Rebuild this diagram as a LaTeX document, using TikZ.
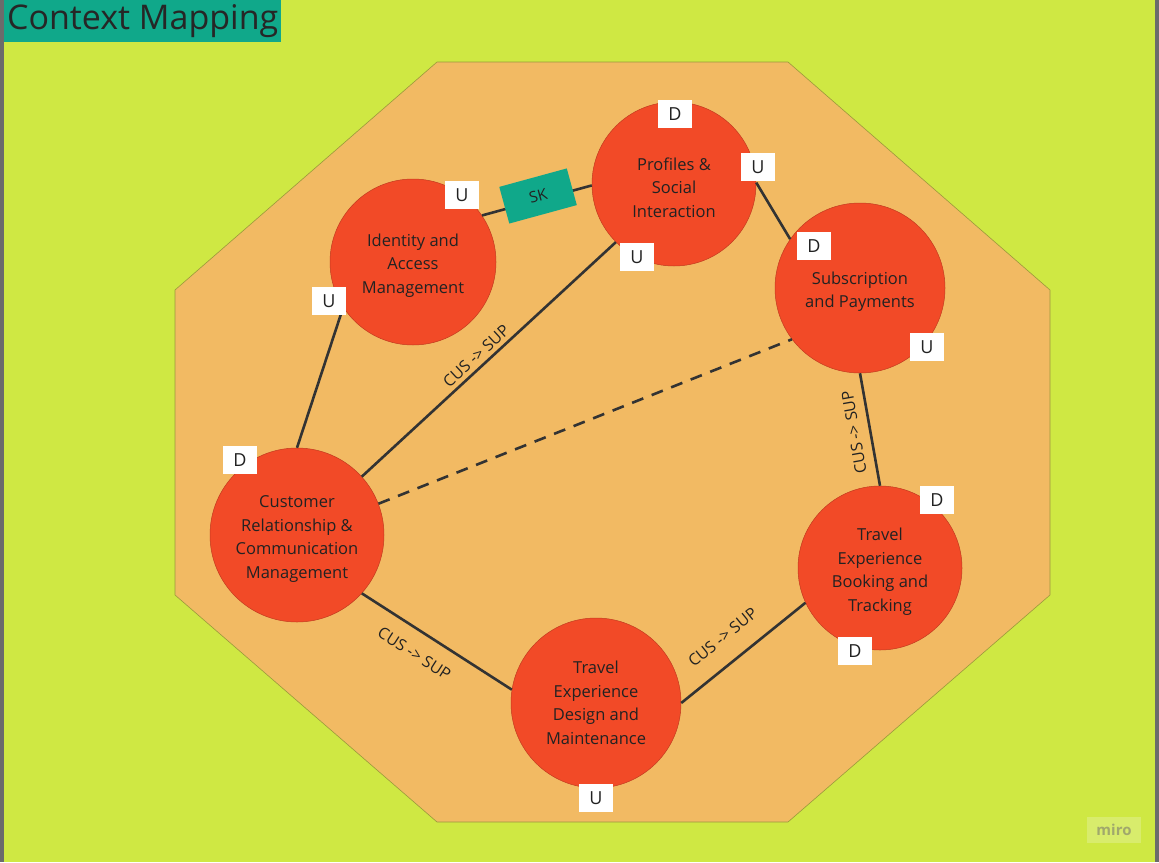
\documentclass[tikz,border=0pt]{standalone}
\usepackage{fontspec}
\setmainfont{Open Sans}
\definecolor{limebg}{HTML}{CFE843}
\definecolor{octo}{HTML}{F2BA63}
\definecolor{octoline}{HTML}{9A9A3A}
\definecolor{ctxred}{HTML}{F24A27}
\definecolor{tealbox}{HTML}{10A88A}
\definecolor{ink}{HTML}{333333}
\definecolor{txt}{HTML}{222222}
\definecolor{edgegray}{HTML}{6B6B6B}
\definecolor{mirobox}{HTML}{D8EC6C}
\definecolor{mirotext}{HTML}{A0A86C}
\newcommand\ctxstrut{\rule{0pt}{19.5pt}}
\begin{document}
\begin{tikzpicture}[x=1pt,y=-1pt,
  ctxnode/.style={circle, fill=ctxred, draw=ctxred!80!black, line width=0.5pt, inner sep=0pt,
    align=center, text=txt, font=\fontsize{16.5}{23.5}\selectfont},
  udtag/.style={fill=white, minimum width=34pt, minimum height=28pt, inner sep=0pt,
    text=txt, font=\fontsize{18}{20}\selectfont},
  rel/.style={draw=ink, line width=2.6pt},
  lbl/.style={font=\fontsize{16}{18}\selectfont, text=txt, sloped, inner sep=2pt},
  skbox/.style={fill=tealbox, minimum width=70pt, minimum height=38pt, inner sep=0pt,
    text=txt, font=\fontsize{15.5}{16}\selectfont}]
\useasboundingbox (0,0) rectangle (1159,862);
% background
\fill[limebg] (0,0) rectangle (1159,862);
\fill[edgegray] (0,0) rectangle (4,862);
\fill[edgegray] (1155,0) rectangle (1159,862);
% title
\node[fill=tealbox, anchor=north west, minimum width=277pt, minimum height=42pt, inner sep=0pt,
  text=black!85, font=\fontsize{34}{36}\selectfont] (title) at (4,0) {Context Mapping};
% octagon
\draw[fill=octo, draw=octoline, line width=0.6pt]
  (437,62) -- (788,62) -- (1050,290) -- (1050,595) -- (788,822) -- (437,822) -- (175,595) -- (175,290) -- cycle;
% contexts
\node[ctxnode, minimum size=166pt] (id) at (413,262) {\ctxstrut Identity and\\Access\\Management};
\node[ctxnode, minimum size=164pt] (pr) at (674,184) {\ctxstrut Profiles \&\\Social\\Interaction};
\node[ctxnode, minimum size=170pt] (su) at (860,288) {\ctxstrut Subscription\\and Payments};
\node[ctxnode, minimum size=174pt] (cu) at (297,535) {\ctxstrut Customer\\Relationship \&\\Communication\\Management};
\node[ctxnode, minimum size=164pt] (bo) at (880,568) {\ctxstrut Travel\\Experience\\Booking and\\Tracking};
\node[ctxnode, minimum size=170pt] (de) at (596,703) {Travel\\Experience\\Design and\\Maintenance};
% relations
\draw[rel] (id.213) -- (cu.90);
\draw[rel] (id.34) -- node[skbox, sloped, pos=0.52, yshift=4pt] (sk) {SK} (pr.181);
\draw[rel] (pr.1) -- (su.145);
\draw[rel] (cu.42) -- node[lbl, above=2pt, pos=0.48] (l1) {CUS -> SUP} (pr.225);
\draw[rel, dash pattern=on 12pt off 9pt] (cu.21) -- (su.217);
\draw[rel] (bo.90) -- node[lbl, allow upside down, above=7pt, midway] (l2) {CUS -> SUP} (su.270);
\draw[rel] (cu.318) -- node[lbl, below=13pt, pos=0.43] (l3) {CUS -> SUP} (de.171);
\draw[rel] (de.0) -- node[lbl, above=16pt, pos=0.46] (l4) {CUS -> SUP} (bo.205);
% U / D tags
\node[udtag] (t1) at (675,114) {D};
\node[udtag] (t2) at (758,167) {U};
\node[udtag] (t3) at (637,257) {U};
\node[udtag] (t4) at (462,195) {U};
\node[udtag] (t5) at (329,301) {U};
\node[udtag] (t6) at (814,246) {D};
\node[udtag] (t7) at (927,347) {U};
\node[udtag] (t8) at (240,460) {D};
\node[udtag] (t9) at (937,500) {D};
\node[udtag] (t10) at (855,651) {D};
\node[udtag] (t11) at (596,798) {U};
% watermark
\node[fill=mirobox, minimum width=54pt, minimum height=26pt, inner sep=0pt, text=mirotext,
  font=\fontsize{15}{16}\selectfont\bfseries] (miro) at (1114,830) {miro};
\end{tikzpicture}
\end{document}
